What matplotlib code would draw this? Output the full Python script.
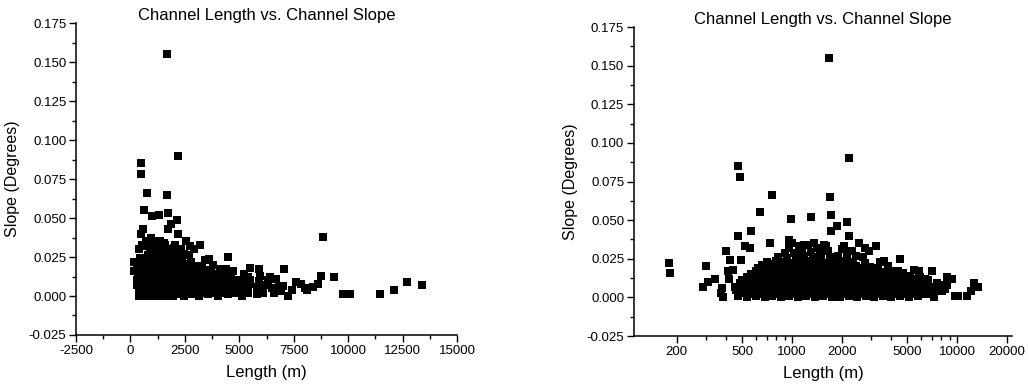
import matplotlib
matplotlib.use("Agg")
import matplotlib.pyplot as plt
from matplotlib.ticker import FixedLocator, NullFormatter, MultipleLocator, FuncFormatter

plt.rcParams['font.family'] = ['Liberation Sans', 'DejaVu Sans']
plt.rcParams['axes.unicode_minus'] = False

# channel length (m) and slope (degrees)
# outliers and sparse points
length_m = [1680, 2200, 470, 485, 760, 1700, 640, 1720, 1300, 980,
            2150, 1880, 1720, 2200, 470, 560, 730, 400, 180, 182,
            300, 290, 310, 340, 375, 370, 380, 420, 488, 439, 411, 415,
            519, 555, 960, 2550, 3210, 2920, 3620, 4490, 5500, 5880,
            7070, 8730, 9330, 7240, 9750, 10100, 11450, 12100, 12700, 13400,
            8090, 8390, 8620, 7850, 6400, 8400]
slope_deg = [0.155, 0.090, 0.085, 0.078, 0.066, 0.065, 0.055, 0.053, 0.052, 0.051,
             0.049, 0.046, 0.043, 0.040, 0.040, 0.043, 0.035, 0.030, 0.022, 0.016,
             0.020, 0.007, 0.010, 0.012, 0.006, 0.003, 0.000, 0.0245, 0.0245, 0.018, 0.017, 0.012,
             0.033, 0.032, 0.037, 0.035, 0.033, 0.030, 0.0235, 0.025, 0.018, 0.017,
             0.017, 0.013, 0.012, 0.000, 0.001, 0.001, 0.001, 0.004, 0.009, 0.007,
             0.004, 0.0055, 0.008, 0.008, 0.012, 0.006]

# one point seen only on the linear panel
linear_only_length = [8835]
linear_only_slope = [0.038]

# dense cluster, row by row
length_m += [470, 530, 600, 680, 760, 850, 960, 1080, 1220, 1370, 1540, 1740,
             1960, 2200, 2480, 2800, 3150, 3550, 4000, 4500, 5100, 5800, 6600]
slope_deg += [0.001, 0.000, 0.001, 0.000, 0.001, 0.000, 0.001, 0.000, 0.001, 0.000, 0.001, 0.000,
              0.000, 0.001, 0.000, 0.001, 0.000, 0.001, 0.000, 0.001, 0.000, 0.001, 0.002]
length_m += [500, 565, 640, 720, 810, 910, 1020, 1150, 1300, 1460, 1640, 1850,
             2080, 2340, 2640, 2970, 3350, 3780, 4250, 4800, 5400, 6100, 6900]
slope_deg += [0.003, 0.0025, 0.003, 0.0035, 0.003, 0.0025, 0.003, 0.0035, 0.003, 0.0025, 0.003, 0.0035,
              0.003, 0.0025, 0.003, 0.0035, 0.003, 0.0025, 0.003, 0.0035, 0.003, 0.002, 0.003]
length_m += [455, 530, 600, 680, 760, 860, 970, 1090, 1230, 1380, 1560, 1760,
             1980, 2230, 2510, 2830, 3190, 3600, 4050, 4560, 5150, 5800, 6500, 7400]
slope_deg += [0.005, 0.0055, 0.005, 0.0045, 0.005, 0.0055, 0.005, 0.0045, 0.005, 0.0055, 0.005, 0.0045,
              0.005, 0.0055, 0.005, 0.0045, 0.005, 0.0055, 0.005, 0.0045, 0.005, 0.0055, 0.005, 0.004]
length_m += [450, 510, 575, 650, 730, 820, 920, 1040, 1170, 1320, 1490, 1680,
             1890, 2130, 2400, 2700, 3050, 3430, 3870, 4350, 4900, 5500, 6200, 7000, 7600]
slope_deg += [0.007, 0.0075, 0.007, 0.0065, 0.007, 0.0075, 0.007, 0.0065, 0.007, 0.0075, 0.007, 0.0065,
              0.007, 0.0075, 0.007, 0.0065, 0.007, 0.0075, 0.007, 0.0065, 0.007, 0.0075, 0.007, 0.0065, 0.009]
length_m += [480, 545, 615, 695, 780, 880, 990, 1110, 1250, 1410, 1590, 1790,
             2020, 2270, 2560, 2880, 3250, 3650, 4120, 4650, 5250, 5900, 6700]
slope_deg += [0.009, 0.0095, 0.009, 0.0085, 0.009, 0.0095, 0.009, 0.0085, 0.009, 0.0095, 0.009, 0.0085,
              0.009, 0.0095, 0.009, 0.0085, 0.009, 0.0095, 0.009, 0.0085, 0.010, 0.0095, 0.011]
length_m += [500, 565, 640, 720, 810, 910, 1020, 1150, 1300, 1460, 1640, 1850,
             2080, 2340, 2640, 2970, 3350, 3780, 4250, 4800, 5400]
slope_deg += [0.011, 0.0115, 0.011, 0.0105, 0.011, 0.0115, 0.011, 0.0105, 0.011, 0.0115, 0.011, 0.0105,
              0.011, 0.0115, 0.011, 0.0105, 0.011, 0.0115, 0.011, 0.0105, 0.012]
length_m += [530, 600, 680, 760, 860, 970, 1090, 1230, 1380, 1560, 1760, 1980,
             2230, 2510, 2830, 3190, 3600, 4050, 4600, 5200, 5950]
slope_deg += [0.013, 0.0135, 0.013, 0.0125, 0.013, 0.0135, 0.013, 0.0125, 0.013, 0.0135, 0.013, 0.0125,
              0.013, 0.0135, 0.013, 0.0125, 0.013, 0.0135, 0.013, 0.014, 0.013]
length_m += [560, 630, 710, 800, 900, 1010, 1140, 1280, 1440, 1620, 1830, 2060,
             2320, 2610, 2940, 3300, 3720, 4200, 4700]
slope_deg += [0.015, 0.0155, 0.015, 0.0145, 0.015, 0.0155, 0.015, 0.0145, 0.015, 0.0155, 0.015, 0.0145,
              0.015, 0.0155, 0.015, 0.0145, 0.015, 0.016, 0.016]
length_m += [600, 680, 760, 860, 970, 1090, 1230, 1380, 1560, 1760, 1980, 2230,
             2510, 2830, 3180, 3600, 4100, 4400]
slope_deg += [0.017, 0.0175, 0.017, 0.0165, 0.017, 0.0175, 0.017, 0.0165, 0.017, 0.0175, 0.017, 0.0165,
              0.017, 0.0175, 0.017, 0.0165, 0.017, 0.017]
length_m += [620, 700, 790, 890, 1000, 1130, 1270, 1430, 1610, 1810, 2040, 2300,
             2600, 2950, 3300, 3800]
slope_deg += [0.019, 0.0195, 0.019, 0.0185, 0.019, 0.0195, 0.019, 0.0185, 0.019, 0.0195, 0.019, 0.0185,
              0.019, 0.0195, 0.019, 0.020]
length_m += [660, 740, 840, 950, 1070, 1200, 1350, 1520, 1720, 1930, 2180, 2450, 2760, 3400]
slope_deg += [0.021, 0.0215, 0.021, 0.0205, 0.021, 0.0215, 0.021, 0.0205, 0.021, 0.0215, 0.021, 0.0205,
              0.022, 0.023]
length_m += [700, 800, 900, 1010, 1140, 1280, 1450, 1630, 1850, 2080, 2350, 2700]
slope_deg += [0.023, 0.0235, 0.023, 0.0225, 0.023, 0.0235, 0.023, 0.0225, 0.023, 0.0235, 0.023, 0.026]
length_m += [820, 930, 1050, 1180, 1330, 1500, 1700, 1900, 2150, 2450]
slope_deg += [0.026, 0.0255, 0.026, 0.0265, 0.026, 0.0255, 0.026, 0.0265, 0.028, 0.027]
length_m += [900, 1020, 1150, 1300, 1480, 1650, 2000, 2300]
slope_deg += [0.029, 0.0285, 0.029, 0.0295, 0.029, 0.030, 0.031, 0.030]
length_m += [960, 1100, 1250, 1420, 1600, 2050, 2750]
slope_deg += [0.032, 0.033, 0.034, 0.032, 0.033, 0.033, 0.032]
length_m += [1000, 1180, 1350, 1550]
slope_deg += [0.035, 0.034, 0.035, 0.034]

# in-between rows that close the gaps in the core of the cluster
length_m += [640, 720, 810, 910, 1020, 1150, 1300, 1460, 1640, 1850, 2080, 2340,
             2640, 2970, 3350, 3780, 4250, 4800, 5400, 6100]
slope_deg += [0.002, 0.002, 0.002, 0.002, 0.002, 0.002, 0.002, 0.002, 0.002, 0.002, 0.002, 0.002,
              0.002, 0.002, 0.002, 0.002, 0.002, 0.002, 0.002, 0.002]
length_m += [600, 680, 760, 860, 970, 1090, 1230, 1380, 1560, 1760, 1980, 2230,
             2510, 2830, 3190, 3600, 4050, 4600, 5200, 5900, 6800, 8000]
slope_deg += [0.006, 0.006, 0.006, 0.006, 0.006, 0.006, 0.006, 0.006, 0.006, 0.006, 0.006, 0.006,
              0.006, 0.006, 0.006, 0.006, 0.006, 0.006, 0.006, 0.006, 0.006, 0.005]
length_m += [650, 730, 820, 920, 1040, 1170, 1320, 1490, 1680, 1890, 2130, 2400,
             2700, 3050, 3430, 3870, 4350, 4900, 5500, 6300]
slope_deg += [0.010, 0.010, 0.010, 0.010, 0.010, 0.010, 0.010, 0.010, 0.010, 0.010, 0.010, 0.010,
              0.010, 0.010, 0.010, 0.010, 0.010, 0.010, 0.010, 0.010]
length_m += [700, 790, 890, 1000, 1130, 1270, 1430, 1610, 1810, 2040, 2300, 2600,
             2950, 3300, 3800, 4300]
slope_deg += [0.014, 0.014, 0.014, 0.014, 0.014, 0.014, 0.014, 0.014, 0.014, 0.014, 0.014, 0.014,
              0.014, 0.014, 0.014, 0.014]
length_m += [740, 840, 950, 1070, 1200, 1350, 1520, 1720, 1930, 2180, 2450, 2800]
slope_deg += [0.018, 0.018, 0.018, 0.018, 0.018, 0.018, 0.018, 0.018, 0.018, 0.018, 0.018, 0.018]

title = 'Channel Length vs. Channel Slope'
x_label = 'Length (m)'
y_label = 'Slope (Degrees)'
log_labels = [200, 500, 1000, 2000, 5000, 10000, 20000]


def style_axes(ax):
    for side in ['top', 'right']:
        ax.spines[side].set_visible(False)
    for side in ['left', 'bottom']:
        ax.spines[side].set_linewidth(1.1)
    ax.tick_params(which='major', direction='out', length=5, width=1.0, labelsize=9.5, pad=2)
    ax.tick_params(which='minor', direction='out', length=3, width=1.0)
    ax.set_ylim(-0.025, 0.175)
    ax.yaxis.set_major_locator(MultipleLocator(0.025))
    ax.yaxis.set_minor_locator(MultipleLocator(0.0125))
    ax.yaxis.set_major_formatter(FuncFormatter(lambda v, p: '%.3f' % v))
    ax.set_title(title, fontsize=12, pad=2)
    ax.set_xlabel(x_label, fontsize=12, labelpad=6)
    ax.set_ylabel(y_label, fontsize=11.5, labelpad=6)


fig = plt.figure(figsize=(10.29, 3.88), dpi=100)
ax1 = fig.add_axes([0.0739, 0.1366, 0.3703, 0.8041])
ax2 = fig.add_axes([0.6161, 0.1340, 0.3674, 0.7964])

ax1.plot(length_m + linear_only_length, slope_deg + linear_only_slope,
         's', color='black', ms=5.2, mew=0)
ax1.set_xlim(-2500, 15000)
ax1.xaxis.set_major_locator(MultipleLocator(2500))
ax1.xaxis.set_minor_locator(MultipleLocator(1250))
style_axes(ax1)

ax2.plot(length_m, slope_deg, 's', color='black', ms=5.2, mew=0)
ax2.set_xscale('log')
ax2.set_xlim(110, 21500)
ax2.xaxis.set_major_locator(FixedLocator(log_labels))
ax2.xaxis.set_major_formatter(FuncFormatter(lambda v, p: '%d' % v))
minor = [m * d for d in [100, 1000, 10000] for m in range(1, 10)
         if m * d not in log_labels and 110 < m * d < 21500]
ax2.xaxis.set_minor_locator(FixedLocator(minor))
ax2.xaxis.set_minor_formatter(NullFormatter())
style_axes(ax2)

fig.savefig('out.png', dpi=100)
